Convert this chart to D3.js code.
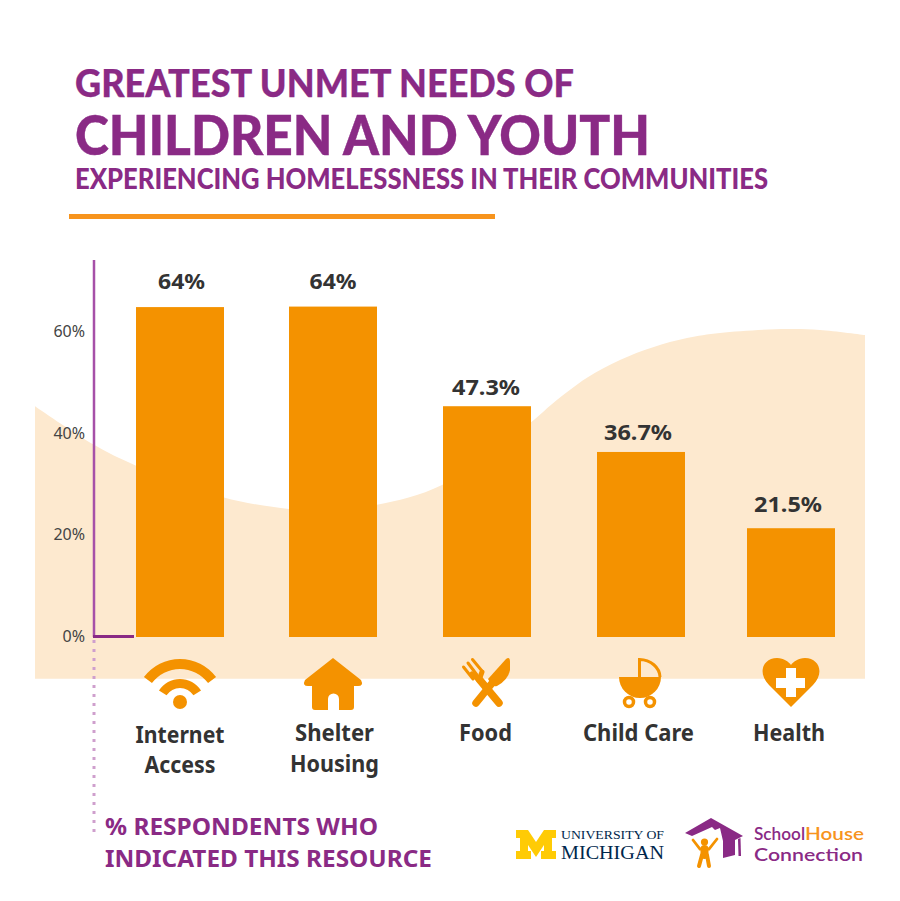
<!DOCTYPE html>
<html>
<head>
<meta charset="utf-8">
<title>Greatest unmet needs</title>
<script src="https://cdn.jsdelivr.net/npm/d3@7"></script>
<style>
  html, body { margin: 0; padding: 0; background: #fff; }
  svg { display: block; }
</style>
</head>
<body>
<svg id="chart" width="900" height="901"></svg>
<script>
// values
var categories = ["Internet Access", "Shelter Housing", "Food", "Child Care", "Health"];
var categoryLines = [["Internet", "Access"], ["Shelter", "Housing"], ["Food"], ["Child Care"], ["Health"]];
var barValues = [64.9, 65, 45.4, 36.4, 21.4];   // height against the axis
var barLabels = ["64%", "64%", "47.3%", "36.7%", "21.5%"];  // printed labels
var tickValues = [0, 20, 40, 60];

// background wave, percent on the y axis at a given page x
var waveX = [35, 94, 135, 223, 289, 330, 377, 442, 530, 553, 587, 620, 653, 687, 720, 787, 820, 865];
var waveY = [45.4, 37.8, 33.8, 27.5, 25.2, 25.1, 26, 29.9, 42.1, 46, 51, 54.5, 57, 58.8, 59.8, 60.6, 60.4, 59.4];

var purple = "#8a2a85", orange = "#f49200", dark = "#333333", sand = "#fde9cf";
var svg = d3.select("#chart");

var y = d3.scaleLinear().domain([0, 60]).range([637, 332]);
var x = d3.scaleOrdinal().domain(categories).range([180, 333, 487, 641, 791]);
var waveScale = d3.scaleLinear().domain([0, 900]).range([0, 900]);
var barWidth = 88;

// helper, fits the text to the width measured on the reference
function label(str, px, py, size, width, opts) {
    opts = opts || {};
    var t = svg.append("text")
        .attr("x", px).attr("y", py)
        .attr("font-family", opts.family || "'Noto Sans', sans-serif")
        .attr("font-weight", opts.weight || 700)
        .attr("font-size", size)
        .attr("fill", opts.fill || dark)
        .attr("text-anchor", opts.anchor || "start")
        .text(str);
    if (width) t.attr("textLength", width).attr("lengthAdjust", "spacingAndGlyphs");
    return t;
}

// wave
var wave = d3.area()
    .x(function(d) { return waveScale(d[0]); })
    .y0(y(-8.2))
    .y1(function(d) { return y(d[1]); })
    .curve(d3.curveCatmullRom);
svg.append("path")
    .datum(d3.zip(waveX, waveY))
    .attr("d", wave)
    .attr("fill", sand);

// title block
var titleFont = "Lato, sans-serif";
var titleOpts = {family: titleFont, weight: 900, fill: purple};
label("GREATEST UNMET NEEDS OF", 75, 97, 37.5, 499, titleOpts).attr("stroke", purple).attr("stroke-width", 0.25);
label("CHILDREN AND YOUTH", 75, 155, 54.5, 575, titleOpts).attr("stroke", purple).attr("stroke-width", 0.4);
label("EXPERIENCING HOMELESSNESS IN THEIR COMMUNITIES", 75, 189, 27.5, 693, titleOpts);
svg.append("rect").attr("x", 69).attr("y", 214).attr("width", 426).attr("height", 5).attr("fill", "#f7941d");

// bars
svg.selectAll("rect.bar")
    .data(categories)
    .enter().append("rect")
    .attr("class", "bar")
    .attr("x", function(d) { return x(d) - barWidth / 2; })
    .attr("width", barWidth)
    .attr("y", function(d, i) { return y(barValues[i]); })
    .attr("height", function(d, i) { return y(0) - y(barValues[i]); })
    .attr("fill", orange);

// value labels
var labelGap = [18, 18, 11, 12, 16];
var labelShift = [1.5, 0, -1, -3, -3];
svg.selectAll("text.value")
    .data(categories)
    .enter().append("text")
    .attr("class", "value")
    .attr("x", function(d, i) { return x(d) + labelShift[i]; })
    .attr("y", function(d, i) { return y(barValues[i]) - labelGap[i]; })
    .attr("text-anchor", "middle")
    .attr("font-family", "'Noto Sans', sans-serif")
    .attr("font-weight", 700)
    .attr("font-size", 22)
    .attr("fill", dark)
    .attr("textLength", function(d, i) { return barLabels[i].length > 3 ? 68 : 47; })
    .attr("lengthAdjust", "spacingAndGlyphs")
    .text(function(d, i) { return barLabels[i]; });

// y axis
var axis = svg.append("g")
    .attr("transform", "translate(85,-0.5)")
    .call(d3.axisLeft(y).tickValues(tickValues).tickSize(0).tickPadding(0)
        .tickFormat(function(d) { return d + "%"; }));
axis.select(".domain").remove();
axis.selectAll("text")
    .attr("font-family", "'Noto Sans', sans-serif")
    .attr("font-size", 16)
    .attr("fill", "#444");

svg.append("line").attr("x1", 94).attr("x2", 94).attr("y1", 260).attr("y2", 637)
    .attr("stroke", "#a650a8").attr("stroke-width", 2.5);
svg.append("line").attr("x1", 93).attr("x2", 134).attr("y1", 636.5).attr("y2", 636.5)
    .attr("stroke", purple).attr("stroke-width", 3);
svg.append("line").attr("x1", 94).attr("x2", 94).attr("y1", 640).attr("y2", 836)
    .attr("stroke", "#cf9fcd").attr("stroke-width", 3).attr("stroke-dasharray", "3 6");

// category names
var nameWidths = [[89, 71], [79, 89], [53], [111], [72]];
var nameBase = [[743, 773], [741, 772], [741], [741], [741]];
var nameX = [180, 334.5, 485.5, 638.5, 789];
categoryLines.forEach(function(lines, i) {
    lines.forEach(function(line, j) {
        label(line, nameX[i], nameBase[i][j], 22.5, nameWidths[i][j], {anchor: "middle", weight: 700});
    });
});

// icons
var icons = svg.append("g").attr("fill", orange);

// wifi
var wifi = icons.append("g").attr("transform", "translate(180,704)");
wifi.append("path").attr("d", d3.arc()({innerRadius: 35, outerRadius: 45, startAngle: -0.93, endAngle: 0.93}));
wifi.append("path").attr("d", d3.arc()({innerRadius: 16, outerRadius: 25, startAngle: -1.0, endAngle: 1.0}));
wifi.append("circle").attr("cy", -2).attr("r", 7);

// house
icons.append("path").attr("d", "M333 658 L361 680 Q364 686 358 686 L354 686 L354 707 Q354 710 351 710 L339 710 L339 699 a5.5 5.5 0 0 0 -11 0 L328 710 L315 710 Q312 710 312 707 L312 686 L308 686 Q302 686 305 680 Z");

// fork and knife
var cutlery = icons.append("g").attr("fill", "none").attr("stroke", orange).attr("stroke-linecap", "round");
cutlery.append("path").attr("d", "M479 679 L499 703").attr("stroke-width", 7.5);
cutlery.append("path").attr("d", "M463.5 667 L473 679 M468 663 L477 675 M472.5 659.5 L482 671").attr("stroke-width", 3);
cutlery.append("path").attr("d", "M472 674 L479 680 L482 672").attr("stroke-width", 5);
cutlery.append("path").attr("d", "M476 703 L493 682").attr("stroke-width", 7.5);
icons.append("path").attr("d", "M488 679 L506 659 Q510 656 510 662 L510 670 Q508 680 497 686 Q493 687 491 684 Z");

// stroller
icons.append("path").attr("d", "M619 677 H661 A21 21 0 0 1 619 677 Z");
icons.append("path").attr("d", "M639.5 677 V659.5 A21 18 0 0 1 660 677")
    .attr("fill", "none").attr("stroke", orange).attr("stroke-width", 3);
icons.append("circle").attr("cx", 629).attr("cy", 702).attr("r", 4.5)
    .attr("fill", "#fff").attr("stroke", orange).attr("stroke-width", 3.5);
icons.append("circle").attr("cx", 650).attr("cy", 702).attr("r", 4.5)
    .attr("fill", "#fff").attr("stroke", orange).attr("stroke-width", 3.5);

// heart with cross
icons.append("path").attr("d", "M791 707 L769 685 C757 673 763 658 777 658 C784 658 789 662 791 665 C793 662 798 658 805 658 C819 658 825 673 813 685 Z");
icons.append("path").attr("fill", "#fff").attr("d", "M786 668 H796 V678 H805 V688 H796 V697 H786 V688 H776 V678 H786 Z");

// axis caption
label("% RESPONDENTS WHO", 105, 835, 23, 273, {fill: purple});
label("INDICATED THIS RESOURCE", 105, 867, 23, 327, {fill: purple});

// michigan logo
svg.append("path").attr("fill", "#ffcb05")
    .attr("d", "M516 830 H528 L536 842 L544 830 H556 V838 H552 V851 H556 V859 H541 V851 H544 V845 L536 857 L528 845 V851 H531 V859 H516 V851 H520 V838 H516 Z");
var serif = "'Liberation Serif', serif";
label("UNIVERSITY OF", 561, 838.5, 12, 103, {family: serif, weight: 400, fill: "#00274c"});
label("MICHIGAN", 561, 858.5, 19.5, 103, {family: serif, weight: 400, fill: "#00274c"});

// schoolhouse connection logo
svg.append("path").attr("fill", purple)
    .attr("d", "M685 833 L711 818 L743 836 L735 840 L735 855 L723 858 L723 841 L720 828 L715 830 L712 827 L692 836 Z");
svg.append("path").attr("fill", purple).attr("d", "M738 839 L740.5 838 L741 856 L738.5 856 Z");
var kid = svg.append("g").attr("fill", "none").attr("stroke", orange).attr("stroke-linecap", "round");
kid.append("circle").attr("cx", 704.5).attr("cy", 842).attr("r", 3.6).attr("fill", orange).attr("stroke", "none");
kid.append("path").attr("d", "M693 840 L700 849 L709 849 L717 839").attr("stroke-width", 2.8);
kid.append("path").attr("d", "M704.5 849 V855").attr("stroke-width", 8);
kid.append("path").attr("d", "M702 855 L699 866 M707 855 L709 866").attr("stroke-width", 4);

var logoFont = "Lato, sans-serif";
var shc = label("", 754, 840, 17, 0, {family: logoFont, weight: 600, fill: purple});
shc.append("tspan").attr("textLength", 51).attr("lengthAdjust", "spacingAndGlyphs").text("School");
shc.append("tspan").attr("fill", "#f7941d").attr("textLength", 59).attr("lengthAdjust", "spacingAndGlyphs").text("House");
label("Connection", 754, 860.5, 17, 109, {family: logoFont, weight: 600, fill: purple});
</script>
</body>
</html>
